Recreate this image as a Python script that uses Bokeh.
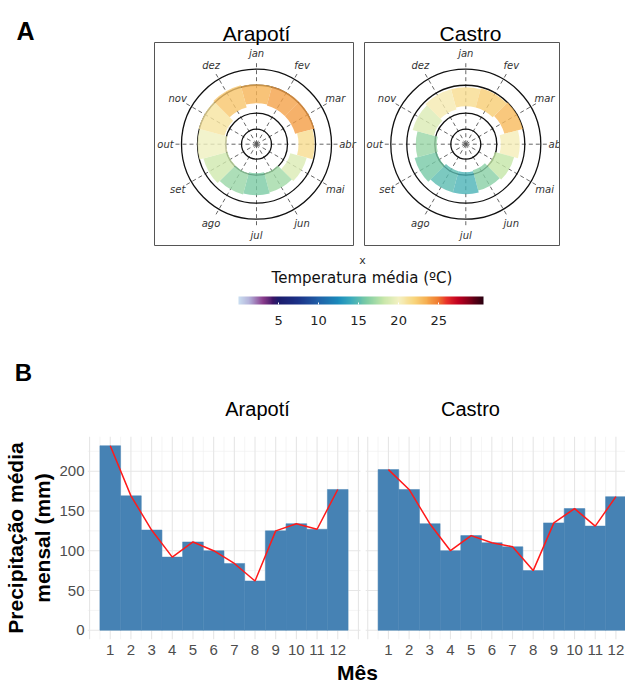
import numpy as np
from bokeh.plotting import figure
from bokeh.models import Range1d, LinearColorMapper, FixedTicker, ColumnDataSource, ColorBar
from bokeh.layouts import column, row
from bokeh.transform import transform
from bokeh.core.properties import value
from bokeh.embed import file_html
from bokeh.resources import INLINE

# ---------------- data ----------------
meses_abrev = ["jan", "fev", "mar", "abr", "mai", "jun", "jul", "ago", "set", "out", "nov", "dez"]

# Panel A : monthly mean temperature (ºC) and radial extent of the ring
arapoti_temp = [23.3, 23.8, 24.0, 21.5, 19.0, 17.0, 16.0, 16.8, 18.5, 19.8, 21.0, 22.5]
arapoti_r_in = [41, 40, 40, 42, 35, 30, 29, 30, 30, 30, 33, 38]
arapoti_r_out = [60, 60, 60, 58, 52, 50, 51, 52, 55, 59, 60, 61]
castro_temp = [21.5, 22.3, 23.0, 20.3, 18.0, 16.3, 14.5, 15.0, 15.8, 16.8, 19.0, 20.5]
castro_r_in = [38, 38, 40, 35, 30, 27, 28, 28, 30, 29, 33, 36]
castro_r_out = [57, 58, 59, 54, 50, 48, 50, 50, 53, 50, 55, 57]
radial_grid = [15, 31, 59, 75]
cbar_ticks = [5, 10, 15, 20, 25]

# Panel B : mean monthly precipitation (mm)
mes = list(range(1, 13))
arapoti_prec = [232, 169, 126, 92, 111, 100, 84, 62, 125, 134, 127, 177]
castro_prec = [202, 177, 134, 100, 119, 110, 105, 75, 135, 153, 131, 168]
prec_ticks = [0, 50, 100, 150, 200]
prec_minor = [25, 75, 125, 175, 225]

# ---------------- colour scale ----------------
stop_vals = [0, 1.5, 3, 4.3, 5, 7.5, 10, 12.5, 14, 16, 18, 20, 22, 23.5, 25, 26, 27.5, 30.6]
stop_cols = ["#c9ddf0", "#b0a8d4", "#8a3c8c", "#3d1566", "#1c1c6c", "#1b3288", "#2060a8",
             "#1a8cbc", "#3aaabc", "#7ccca4", "#c4e6a8", "#f4f1c2", "#f8d57c", "#f6ae50",
             "#f07a30", "#e8302a", "#c00020", "#2a0010"]
T_HIGH = 30.6


def _rgb(h):
    return [int(h[i:i + 2], 16) for i in (1, 3, 5)]


_rgbs = np.array([_rgb(c) for c in stop_cols], dtype=float)
_t = np.linspace(0, T_HIGH, 256)
palette = ["#%02x%02x%02x" % tuple(int(round(np.interp(tt, stop_vals, _rgbs[:, k]))) for k in range(3))
           for tt in _t]
mapper = LinearColorMapper(palette=palette, low=0, high=T_HIGH)

ANG = np.pi / 2 - np.arange(12) * np.pi / 6  # jan at top, clockwise

# ---------------- top figure : Panel A (polar rings + colour bar) ----------------
TW, TH = 625, 436
T = figure(frame_width=TW, frame_height=TH, min_border_left=0, min_border_right=0,
           min_border_top=0, min_border_bottom=0, x_range=Range1d(0, TW), y_range=Range1d(0, TH),
           x_axis_location=None, y_axis_location=None, title=None,
           toolbar_location=None, output_backend="svg")
T.xgrid.visible = False
T.ygrid.visible = False
T.outline_line_color = None


def ty(py):
    return TH - py


def txt(x, y, text, size, font="Liberation Sans", style="normal", color="black", align="center"):
    T.text(x=[x], y=[ty(y)], text=[text], text_font=value(font), text_font_size=f"{size}px",
           text_font_style=style, text_color=color, text_align=align, text_baseline="middle")


def polar(cx, cy, temps, r_in, r_out):
    y0 = ty(cy)
    T.segment(x0=np.full(12, cx), y0=np.full(12, y0), x1=cx + 84 * np.cos(ANG),
              y1=y0 + 84 * np.sin(ANG), line_color="#555555", line_width=0.9, line_dash="4 3")
    T.circle(x=np.full(len(radial_grid), cx), y=np.full(len(radial_grid), y0), radius=radial_grid,
             fill_color=None, line_color="#111111", line_width=1.3)
    src = ColumnDataSource(dict(temp=temps, r_in=r_in, r_out=r_out,
                                a0=ANG - np.pi / 12, a1=ANG + np.pi / 12))
    T.annular_wedge(x=cx, y=y0, inner_radius="r_in", outer_radius="r_out",
                    start_angle="a0", end_angle="a1", source=src,
                    fill_color=transform("temp", mapper), fill_alpha=0.8, line_color=None)
    T.text(x=cx + 91 * np.cos(ANG), y=y0 + 91 * np.sin(ANG), text=meses_abrev,
           text_font=value("DejaVu Sans"), text_font_style="italic", text_font_size="10px",
           text_color="#333333", text_align="center", text_baseline="middle")


polar(256, 143.7, arapoti_temp, arapoti_r_in, arapoti_r_out)
polar(465.3, 143.7, castro_temp, castro_r_in, castro_r_out)
# clip what spills over the right-hand panel border, then the panel borders
T.quad(left=[559.5], right=[TW], bottom=[ty(245)], top=[ty(42)], fill_color="white",
       line_color=None)
T.quad(left=[154, 364], right=[353, 559], bottom=[ty(245)] * 2, top=[ty(42)] * 2,
       fill_color=None, line_color="#555555", line_width=1)

txt(256, 33, "Arapotí", 21)
txt(470, 33, "Castro", 21)
txt(25, 30, "A", 25, style="bold")
txt(362, 260, "x", 11, font="DejaVu Sans", color="#333333")
txt(361.5, 277, "Temperatura média (ºC)", 15, font="DejaVu Sans", color="#111111")

cb = ColorBar(color_mapper=mapper, ticker=FixedTicker(ticks=cbar_ticks), orientation="horizontal",
              width=245, height=8, location=(238, TH - 327), padding=0, margin=0,
              label_standoff=11, major_label_text_font="DejaVu Sans",
              major_label_text_font_size="13px", major_label_text_color="#222222",
              major_tick_line_color="white", major_tick_in=2, major_tick_out=0,
              minor_tick_line_color=None, bar_line_color=None, border_line_color=None,
              background_fill_alpha=0)
T.add_layout(cb, "center")

txt(23, 372, "B", 24, style="bold")
txt(257, 408, "Arapotí", 20)
txt(470, 408, "Castro", 20)

# ---------------- Panel B : precipitation bars ----------------
FL, FR, FT, FB = 85, 625, 436, 639
BX0 = -0.1
PXU = 273 / 13.2
X_END = BX0 + (FR - FL) / PXU
Y0, Y1 = -11.6, 243.6
OFF = 13.45

pr = figure(frame_width=FR - FL, frame_height=FB - FT, min_border_left=FL, min_border_right=0,
            min_border_top=0, min_border_bottom=688 - FB,
            x_range=Range1d(BX0, X_END), y_range=Range1d(Y0, Y1), title=None,
            toolbar_location=None, output_backend="svg")
pr.xgrid.visible = False
pr.ygrid.visible = False
pr.outline_line_color = None

facets = [(arapoti_prec, 0.0, BX0, 13.1), (castro_prec, OFF, OFF + BX0, X_END)]
for prec, o, xa, xb in facets:
    vmaj = [o + k for k in range(0, 14) if xa <= o + k <= xb]
    vmin = [o + k + 0.5 for k in range(0, 13) if xa <= o + k + 0.5 <= xb]
    pr.segment(x0=vmin, y0=[Y0] * len(vmin), x1=vmin, y1=[Y1] * len(vmin),
               line_color="#f0f0f0", line_width=0.7)
    pr.segment(x0=[xa] * len(prec_minor), y0=prec_minor, x1=[xb] * len(prec_minor), y1=prec_minor,
               line_color="#f0f0f0", line_width=0.7)
    pr.segment(x0=vmaj, y0=[Y0] * len(vmaj), x1=vmaj, y1=[Y1] * len(vmaj),
               line_color="#e6e6e6", line_width=1.1)
    pr.segment(x0=[xa] * len(prec_ticks), y0=prec_ticks, x1=[xb] * len(prec_ticks), y1=prec_ticks,
               line_color="#e6e6e6", line_width=1.1)
    xs = [m + o for m in mes]
    pr.vbar(x=xs, top=prec, bottom=0, width=1.0, fill_color="#4682b4", line_color="#4682b4",
            line_width=0.5)
    pr.line(x=xs, y=prec, line_color="#ff1a1a", line_width=1.5)

ticks = [float(m) for m in mes] + [m + OFF for m in mes]
pr.xaxis.ticker = FixedTicker(ticks=ticks)
pr.xaxis.major_label_overrides = {**{float(m): str(m) for m in mes},
                                  **{m + OFF: str(m) for m in mes}}
pr.yaxis.ticker = FixedTicker(ticks=prec_ticks)
for ax in (pr.xaxis, pr.yaxis):
    ax.major_tick_out = 0
    ax.major_tick_in = 0
    ax.minor_tick_line_color = None
    ax.axis_line_color = None
    ax.major_label_text_font = "Liberation Sans"
    ax.major_label_text_font_size = "15px"
    ax.major_label_text_color = "#4d4d4d"
    ax.axis_label_text_font = "Liberation Sans"
    ax.axis_label_text_font_size = "21px"
    ax.axis_label_text_font_style = "bold"
    ax.axis_label_text_color = "black"
pr.xaxis.major_label_standoff = 5
pr.yaxis.major_label_standoff = 3
pr.xaxis.axis_label = "Mês"
pr.xaxis.axis_label_standoff = 3
pr.yaxis.axis_label = "Precipitação média\nmensal (mm)"
pr.yaxis.axis_label_standoff = 2

layout = column(row(T), row(pr), spacing=0)
open("out.html", "w").write(file_html(layout, INLINE))
